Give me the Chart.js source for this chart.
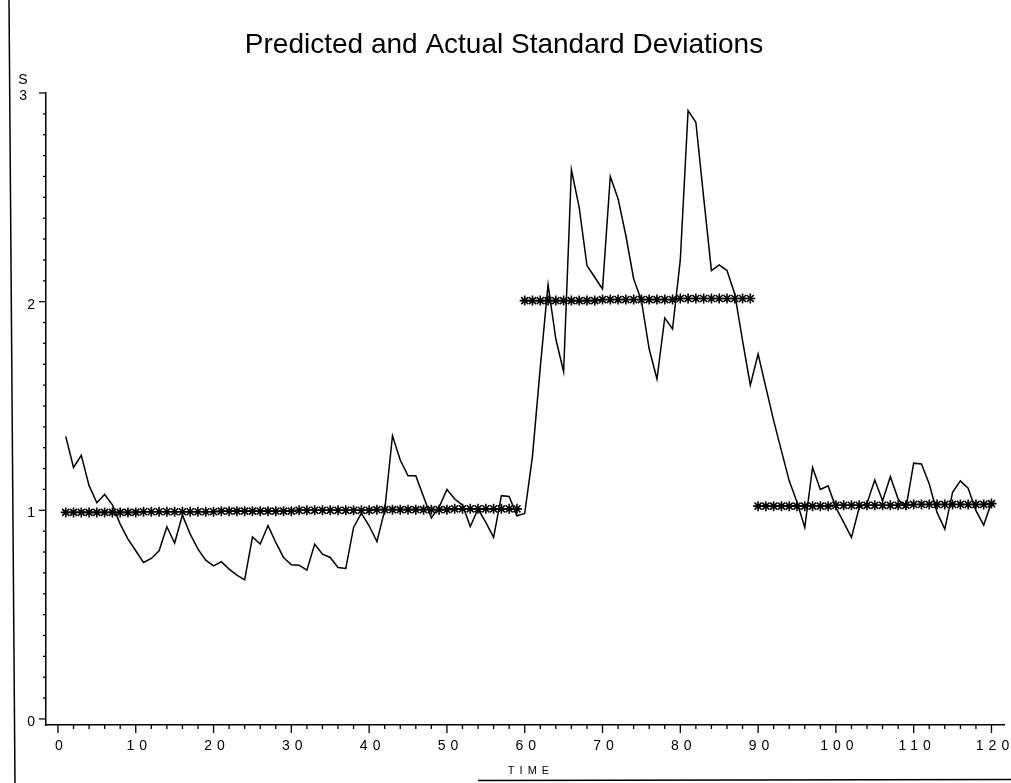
<!DOCTYPE html>
<html><head><meta charset="utf-8">
<script src="https://cdn.jsdelivr.net/npm/chart.js@4.4.1/dist/chart.umd.min.js"></script>
<style>html,body{margin:0;padding:0;background:#fff;overflow:hidden}#wrap{width:1011px;height:783px;position:relative}</style>
</head><body><div id="wrap"><canvas id="c"></canvas></div>
<script>
const TITLE = 'Predicted and Actual Standard Deviations';
const X_LABEL = 'TIME';
const Y_LABEL = 'S';
const time = Array.from({length: 120}, (_, i) => i + 1);
const actualS = [
  1.354, 1.205, 1.263, 1.118, 1.036, 1.076, 1.026, 0.934, 0.862, 0.806,
  0.750, 0.769, 0.806, 0.921, 0.843, 0.977, 0.886, 0.814, 0.761, 0.734,
  0.754, 0.718, 0.689, 0.667, 0.872, 0.838, 0.927, 0.846, 0.774, 0.739,
  0.737, 0.713, 0.838, 0.790, 0.774, 0.726, 0.721, 0.918, 0.986, 0.926,
  0.850, 1.000, 1.357, 1.241, 1.165, 1.165, 1.065, 0.963, 1.015, 1.100,
  1.054, 1.025, 0.922, 1.006, 0.942, 0.870, 1.070, 1.066, 0.974, 0.985,
  1.261, 1.685, 2.082, 1.821, 1.664, 2.632, 2.452, 2.173, 2.117, 2.061,
  2.600, 2.493, 2.317, 2.110, 2.005, 1.773, 1.629, 1.922, 1.869, 2.200,
  2.916, 2.860, 2.500, 2.149, 2.176, 2.149, 2.037, 1.813, 1.600, 1.749,
  1.589, 1.430, 1.285, 1.141, 1.040, 0.918, 1.205, 1.100, 1.117, 1.013,
  0.942, 0.870, 1.013, 1.034, 1.145, 1.046, 1.161, 1.054, 1.010, 1.226,
  1.222, 1.126, 0.990, 0.910, 1.086, 1.141, 1.106, 0.998, 0.929, 1.037
];
const predictedS = [
  0.990, 0.990, 0.990, 0.990, 0.990, 0.990, 0.990, 0.990, 0.990, 0.990,
  0.993, 0.993, 0.993, 0.993, 0.993, 0.993, 0.993, 0.993, 0.993, 0.993,
  0.996, 0.996, 0.996, 0.996, 0.996, 0.996, 0.996, 0.996, 0.996, 0.996,
  1.000, 1.000, 1.000, 1.000, 1.000, 1.000, 1.000, 1.000, 1.000, 1.000,
  1.003, 1.003, 1.003, 1.003, 1.003, 1.003, 1.003, 1.003, 1.003, 1.003,
  1.007, 1.007, 1.007, 1.007, 1.007, 1.007, 1.007, 1.007, 1.007, 2.005,
  2.005, 2.005, 2.005, 2.005, 2.005, 2.005, 2.005, 2.005, 2.005, 2.010,
  2.010, 2.010, 2.010, 2.010, 2.010, 2.010, 2.010, 2.010, 2.010, 2.015,
  2.015, 2.015, 2.015, 2.015, 2.015, 2.015, 2.015, 2.015, 2.015, 1.020,
  1.020, 1.020, 1.020, 1.020, 1.020, 1.020, 1.020, 1.020, 1.020, 1.024,
  1.024, 1.024, 1.024, 1.024, 1.024, 1.024, 1.024, 1.024, 1.024, 1.028,
  1.028, 1.028, 1.028, 1.028, 1.028, 1.028, 1.028, 1.028, 1.028, 1.032
];
const xTickLabels = [0, 10, 20, 30, 40, 50, 60, 70, 80, 90, 100, 110, 120];
const yTickLabels = [0, 1, 2, 3];

const axisPlugin = {
  id: 'sasAxes',
  afterDraw(chart) {
    const ctx = chart.ctx;
    const xs = chart.scales.x, ys = chart.scales.y;
    const ca = chart.chartArea;
    ctx.save();
    ctx.strokeStyle = '#000';
    ctx.fillStyle = '#000';
    ctx.lineWidth = 1.3;
    for (let v = 0; v <= 120; v += 2) {
      const px = xs.getPixelForValue(v);
      const len = (v % 10 === 0) ? 8 : 4;
      ctx.beginPath(); ctx.moveTo(px, ca.bottom); ctx.lineTo(px, ca.bottom + len); ctx.stroke();
    }
    for (let k = 0; k <= 30; k++) {
      const py = ys.getPixelForValue(k / 10);
      const len = (k % 10 === 0) ? 7 : 3;
      ctx.beginPath(); ctx.moveTo(ca.left - len, py); ctx.lineTo(ca.left, py); ctx.stroke();
    }
    ctx.font = '14px "Liberation Sans", Arial, sans-serif';
    ctx.letterSpacing = '5px';
    ctx.textAlign = 'center';
    ctx.textBaseline = 'middle';
    xTickLabels.forEach(v => {
      ctx.fillText(String(v), xs.getPixelForValue(v) + 3.5, 746);
    });
    ctx.font = '11px "Liberation Sans", Arial, sans-serif';
    ctx.letterSpacing = '5px';
    ctx.fillText(X_LABEL, 531, 771);
    ctx.letterSpacing = '0px';
    ctx.font = '14px "Liberation Sans", Arial, sans-serif';
    ctx.textAlign = 'right';
    yTickLabels.forEach(v => {
      const x = v === 3 ? 27 : 35;
      ctx.fillText(String(v), x, ys.getPixelForValue(v) + 3);
    });
    ctx.textAlign = 'center';
    ctx.fillText(Y_LABEL, 23, 80);
    ctx.lineWidth = 1.5;
    ctx.beginPath(); ctx.moveTo(9, 0); ctx.lineTo(15, 783); ctx.stroke();
    ctx.beginPath(); ctx.moveTo(478, 780.5); ctx.lineTo(1011, 779.5); ctx.stroke();
    ctx.restore();
  }
};

new Chart(document.getElementById('c'), {
  type: 'line',
  data: {
    datasets: [
      {
        label: 'Actual',
        data: time.map((t, i) => ({x: t, y: actualS[i]})),
        borderColor: '#000',
        borderWidth: 1.5,
        pointRadius: 0,
        tension: 0,
        fill: false
      },
      {
        label: 'Predicted',
        data: time.map((t, i) => ({x: t, y: predictedS[i]})),
        borderColor: '#000',
        borderWidth: 1.2,
        pointStyle: 'star',
        pointRadius: 5,
        pointBorderWidth: 1.6,
        pointBorderColor: '#000',
        pointBackgroundColor: '#000',
        tension: 0,
        fill: false,
        segment: {
          borderColor: c => Math.abs(c.p1.parsed.y - c.p0.parsed.y) > 0.5 ? 'rgba(0,0,0,0)' : '#000'
        }
      }
    ]
  },
  options: {
    responsive: true,
    maintainAspectRatio: false,
    animation: false,
    devicePixelRatio: 1,
    layout: {padding: {top: 0, left: 0, right: 3, bottom: 0}},
    plugins: {
      legend: {display: false},
      tooltip: {enabled: false},
      title: {
        display: true,
        text: TITLE,
        color: '#000',
        font: {family: '"Liberation Sans", Arial, sans-serif', size: 28, weight: 'normal', lineHeight: 1.2},
        padding: {top: 28, bottom: 31.4}
      }
    },
    scales: {
      x: {
        type: 'linear',
        min: -1.537,
        max: 121.66,
        grid: {display: false},
        border: {display: true, color: '#000', width: 1.5},
        ticks: {display: false},
        afterFit: s => { s.height = 58; }
      },
      y: {
        type: 'linear',
        min: -0.029,
        max: 3,
        grid: {display: false},
        border: {display: true, color: '#000', width: 1.5},
        ticks: {display: false},
        afterFit: s => { s.width = 46; }
      }
    }
  },
  plugins: [axisPlugin]
});
</script>
</body></html>
